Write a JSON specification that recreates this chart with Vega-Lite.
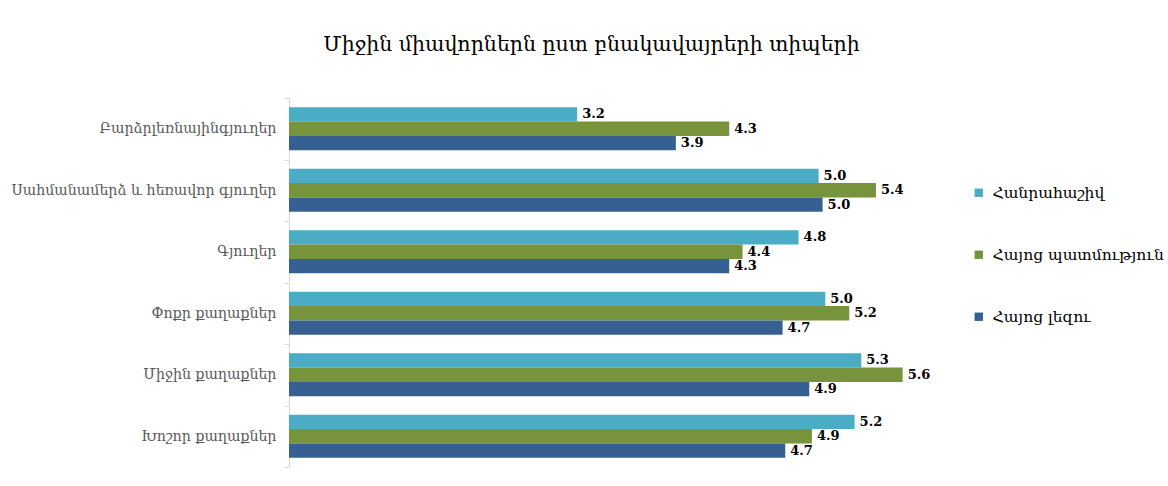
{
  "$schema": "https://vega.github.io/schema/vega-lite/v6.json",
  "autosize": {"type": "none"},
  "width": 667,
  "height": 369,
  "padding": {"left": 289, "top": 98, "right": 212, "bottom": 19},
  "background": "white",
  "title": {
    "text": "Միջին միավորներն ըստ բնակավայրերի տիպերի",
    "font": "DejaVu Serif",
    "fontSize": 20.5,
    "fontWeight": "normal",
    "color": "#000000",
    "anchor": "middle",
    "dx": -31,
    "offset": 36
  },
  "config": {
    "view": {"stroke": null},
    "font": "DejaVu Serif"
  },
  "data": {
    "values": [
      {"category": "Բարձրլեռնայինգյուղեր", "subject": "Հանրահաշիվ", "value": 3.16},
      {"category": "Բարձրլեռնայինգյուղեր", "subject": "Հայոց պատմություն", "value": 4.3},
      {"category": "Բարձրլեռնայինգյուղեր", "subject": "Հայոց լեզու", "value": 3.9},
      {"category": "Սահմանամերձ և հեռավոր գյուղեր", "subject": "Հանրահաշիվ", "value": 4.97},
      {"category": "Սահմանամերձ և հեռավոր գյուղեր", "subject": "Հայոց պատմություն", "value": 5.4},
      {"category": "Սահմանամերձ և հեռավոր գյուղեր", "subject": "Հայոց լեզու", "value": 5.0},
      {"category": "Գյուղեր", "subject": "Հանրահաշիվ", "value": 4.82},
      {"category": "Գյուղեր", "subject": "Հայոց պատմություն", "value": 4.4},
      {"category": "Գյուղեր", "subject": "Հայոց լեզու", "value": 4.3},
      {"category": "Փոքր քաղաքներ", "subject": "Հանրահաշիվ", "value": 5.02},
      {"category": "Փոքր քաղաքներ", "subject": "Հայոց պատմություն", "value": 5.2},
      {"category": "Փոքր քաղաքներ", "subject": "Հայոց լեզու", "value": 4.7},
      {"category": "Միջին քաղաքներ", "subject": "Հանրահաշիվ", "value": 5.29},
      {"category": "Միջին քաղաքներ", "subject": "Հայոց պատմություն", "value": 5.6},
      {"category": "Միջին քաղաքներ", "subject": "Հայոց լեզու", "value": 4.9},
      {"category": "Խոշոր քաղաքներ", "subject": "Հանրահաշիվ", "value": 5.24},
      {"category": "Խոշոր քաղաքներ", "subject": "Հայոց պատմություն", "value": 4.92},
      {"category": "Խոշոր քաղաքներ", "subject": "Հայոց լեզու", "value": 4.72}
    ]
  },
  "encoding": {
    "y": {
      "field": "category",
      "type": "nominal",
      "sort": null,
      "scale": {"paddingInner": 0, "paddingOuter": 0},
      "axis": {
        "title": null,
        "tickBand": "extent",
        "domainColor": "#d9d9d9",
        "tickColor": "#d9d9d9",
        "tickSize": 5,
        "labelPadding": 8,
        "labelFont": "DejaVu Serif",
        "labelFontSize": 14.2,
        "labelColor": "#595959",
        "labelLimit": 300
      }
    },
    "yOffset": {
      "field": "subject",
      "type": "nominal",
      "sort": ["Հանրահաշիվ", "Հայոց պատմություն", "Հայոց լեզու"],
      "scale": {"paddingInner": 0, "paddingOuter": 0.645}
    },
    "x": {
      "field": "value",
      "type": "quantitative",
      "scale": {"domain": [1, 6], "zero": false, "nice": false},
      "axis": null
    }
  },
  "layer": [
    {
      "mark": {"type": "bar"},
      "encoding": {
        "x2": {"datum": 1},
        "color": {
          "field": "subject",
          "type": "nominal",
          "sort": ["Հանրահաշիվ", "Հայոց պատմություն", "Հայոց լեզու"],
          "scale": {
            "domain": ["Հանրահաշիվ", "Հայոց պատմություն", "Հայոց լեզու"],
            "range": ["#4BACC6", "#77933C", "#376092"]
          },
          "legend": {
            "title": null,
            "orient": "none",
            "legendX": 682,
            "legendY": 87,
            "padding": 0,
            "symbolType": "square",
            "symbolSize": 70,
            "symbolStrokeWidth": 0,
            "rowPadding": 45,
            "labelFont": "DejaVu Serif",
            "labelFontSize": 15.5,
            "labelColor": "#000000",
            "labelOffset": 6,
            "labelLimit": 300
          }
        }
      }
    },
    {
      "mark": {
        "type": "text",
        "align": "left",
        "baseline": "middle",
        "dx": 5,
        "font": "DejaVu Serif",
        "fontSize": 13,
        "fontWeight": "bold",
        "color": "#000000"
      },
      "encoding": {
        "text": {"field": "value", "type": "quantitative", "format": ".1f"}
      }
    }
  ]
}
